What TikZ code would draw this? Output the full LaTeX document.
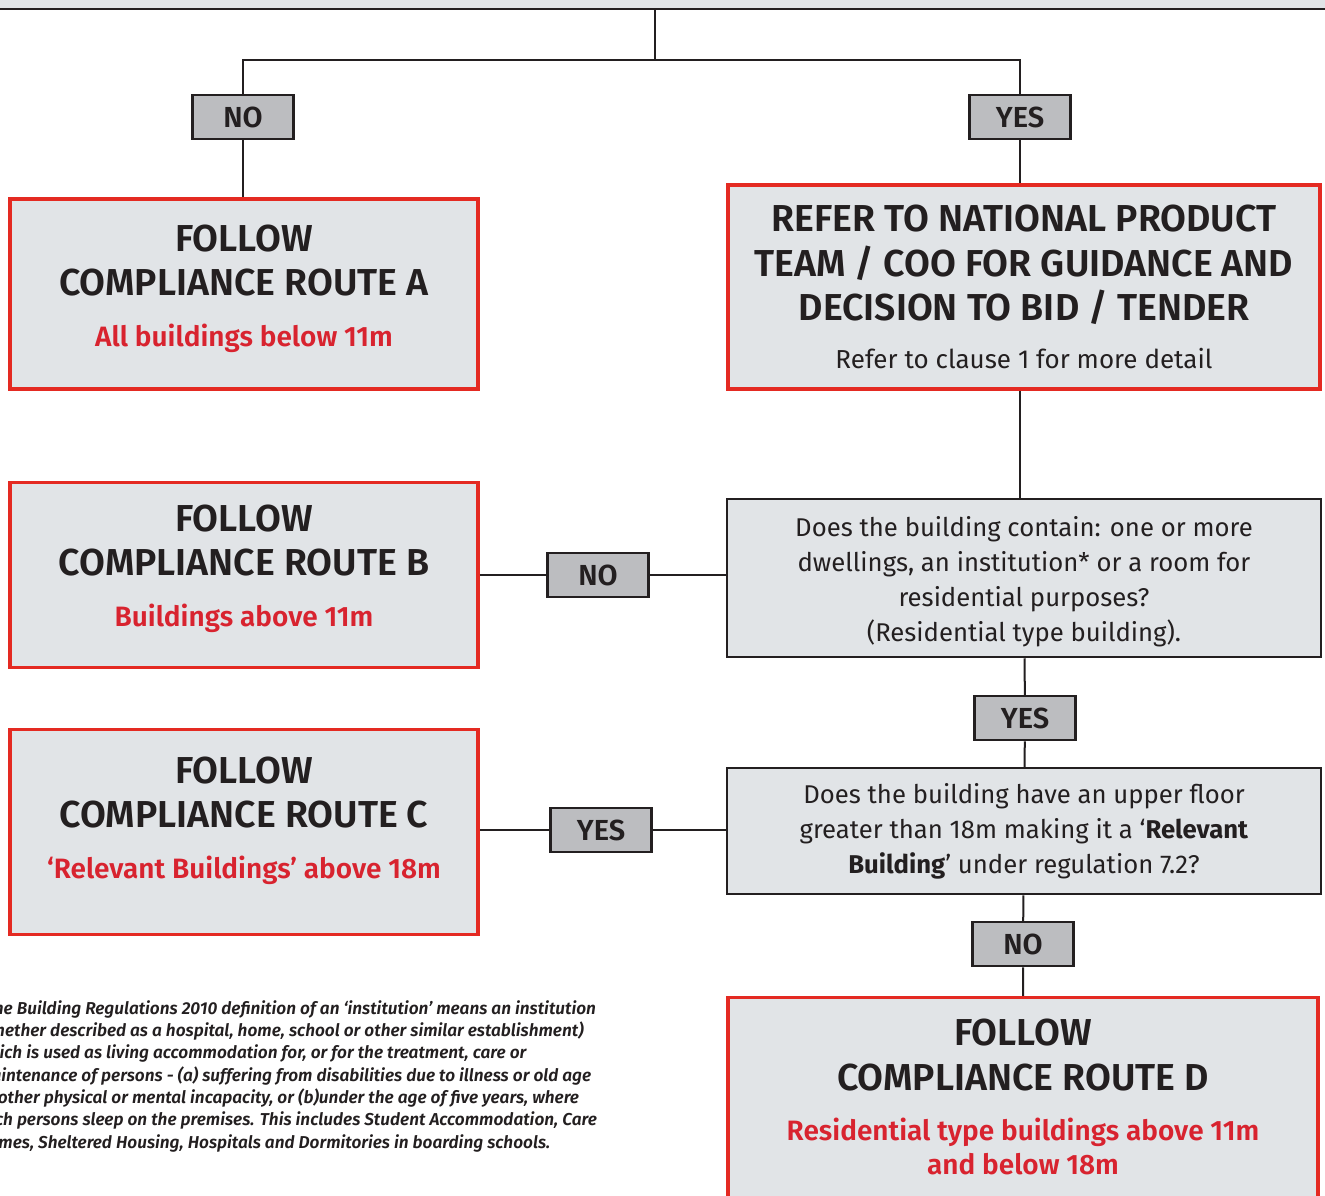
\documentclass[tikz,border=0pt]{standalone}
\usepackage{fontspec}
\setmainfont{Fira Sans}
\IfFontExistsTF{Fira Sans SemiBold}{%
  \newfontfamily\headfont{Fira Sans SemiBold}}{%
  \newfontfamily\headfont{Fira Sans Medium}}
\IfFontExistsTF{Fira Sans SemiBold Italic}{%
  \newfontfamily\notefont{Fira Sans SemiBold Italic}}{%
  \newfontfamily\notefont{Fira Sans Medium Italic}}
\usetikzlibrary{positioning}

\definecolor{boxgray}{HTML}{E1E4E7}
\definecolor{taggray}{HTML}{BCBDC0}
\definecolor{routered}{HTML}{E42A22}
\definecolor{textred}{HTML}{D8232F}
\definecolor{ink}{HTML}{231F20}

\newcommand\subred[1]{{\color{textred}\fontsize{28}{34}\selectfont #1}}

\begin{document}
\begin{tikzpicture}[x=1pt, y=-1pt, line cap=butt, line join=miter,
  route/.style={draw=routered, line width=3.5pt, fill=boxgray, align=center, inner sep=0pt,
    text=ink, font=\headfont\fontsize{37.5}{44.5}\selectfont},
  ask/.style={draw=ink, line width=2.5pt, fill=boxgray, align=center, inner sep=0pt,
    text=ink, font=\fontsize{25.7}{35}\selectfont},
  tag/.style={draw=ink, line width=2.5pt, fill=taggray, minimum width=101, minimum height=44,
    inner sep=0pt, text=ink, font=\headfont\fontsize{29}{34}\selectfont},
  link/.style={draw=ink, line width=2pt}]
  \useasboundingbox (0,0) rectangle (1325,1196);
  \begin{scope}
  \clip (0,0) rectangle (1325,1196);

  %--- header box (cut off at the top) -------------------------------------
  \node[ask, minimum width=1400, minimum height=110] (head) at (662,-46) {};
  \coordinate (j) at (655,60);

  %--- first split ---------------------------------------------------------
  \node[tag] (noA)  at (243,117)  {NO};
  \node[tag] (yesA) at (1020,117) {YES};

  \node[route, minimum width=468, minimum height=190, text height=120, text depth=16]
    (routeA) at (244,294)
    {FOLLOW\\COMPLIANCE ROUTE A\\[6pt] \subred{All buildings below 11m}};

  \node[route, minimum width=592, minimum height=204] (refer) at (1024,287)
    {REFER TO NATIONAL PRODUCT\\TEAM / COO FOR GUIDANCE AND\\DECISION TO BID / TENDER\\[3pt]
     {\normalfont\fontsize{26}{32}\selectfont Refer to clause 1 for more detail}};

  %--- residential question ------------------------------------------------
  \node[ask, minimum width=594, minimum height=158, text height=135, text depth=9]
    (q1) at (1024,578)
    {Does the building contain: one or more\\dwellings, an institution* or a room for\\
     residential purposes?\\(Residential type building).};

  \node[tag] (noB) at (598,575) {NO};
  \node[route, minimum width=468, minimum height=185, text height=120, text depth=18]
    (routeB) at (244,575)
    {FOLLOW\\COMPLIANCE ROUTE B\\[6pt] \subred{Buildings above 11m}};

  %--- height question -----------------------------------------------------
  \node[tag] (yesB) at (1025,718) {YES};
  \node[ask, minimum width=594, minimum height=126] (q2) at (1024,831)
    {Does the building have an upper floor\\greater than 18m making it a ‘\textbf{Relevant}\\
     \textbf{Building}’ under regulation 7.2?};

  \node[tag] (yesC) at (601,830) {YES};
  \node[route, minimum width=468, minimum height=205, text height=120, text depth=28]
    (routeC) at (244,832)
    {FOLLOW\\COMPLIANCE ROUTE C\\[6pt] \subred{‘Relevant Buildings’ above 18m}};

  \node[tag] (noD) at (1023,944) {NO};
  \node[route, minimum width=590, minimum height=240, text height=160, text depth=45.5,
    anchor=north] (routeD) at (1023,995.75)
    {FOLLOW\\COMPLIANCE ROUTE D\\[6pt] \subred{Residential type buildings above 11m}\\[-10.5pt]
     \subred{and below 18m}};

  %--- connectors ----------------------------------------------------------
  \draw[link] (head.south -| j) -- (j);
  \draw[link] (noA) |- (j) -| (yesA);
  \draw[link] (noA) -- (routeA.north -| noA);
  \draw[link] (yesA) -- (refer.north -| yesA);
  \draw[link] (refer.south -| yesA) -- (q1.north -| yesA);
  \draw[link] (routeB.east |- noB) -- (noB) -- (noB -| q1.west);
  \draw[link] (q1) -- (yesB) -- (q2);
  \draw[link] (routeC.east |- yesC) -- (yesC) -- (yesC -| q2.west);
  \draw[link] (q2) -- (noD) -- (routeD);

  %--- footnote ------------------------------------------------------------
  \node[anchor=north west, align=left, inner sep=0pt, text=ink,
        font=\notefont\fontsize{17.2}{22.35}\selectfont] (note) at (-23,1000)
    {*The Building Regulations 2010 definition of an ‘institution’ means an institution\\
     (whether described as a hospital, home, school or other similar establishment)\\
     which is used as living accommodation for, or for the treatment, care or\\
     maintenance of persons - (a) suffering from disabilities due to illness or old age\\
     or other physical or mental incapacity, or (b)under the age of five years, where\\
     such persons sleep on the premises. This includes Student Accommodation, Care\\
     Homes, Sheltered Housing, Hospitals and Dormitories in boarding schools.};
  \end{scope}
\end{tikzpicture}
\end{document}
